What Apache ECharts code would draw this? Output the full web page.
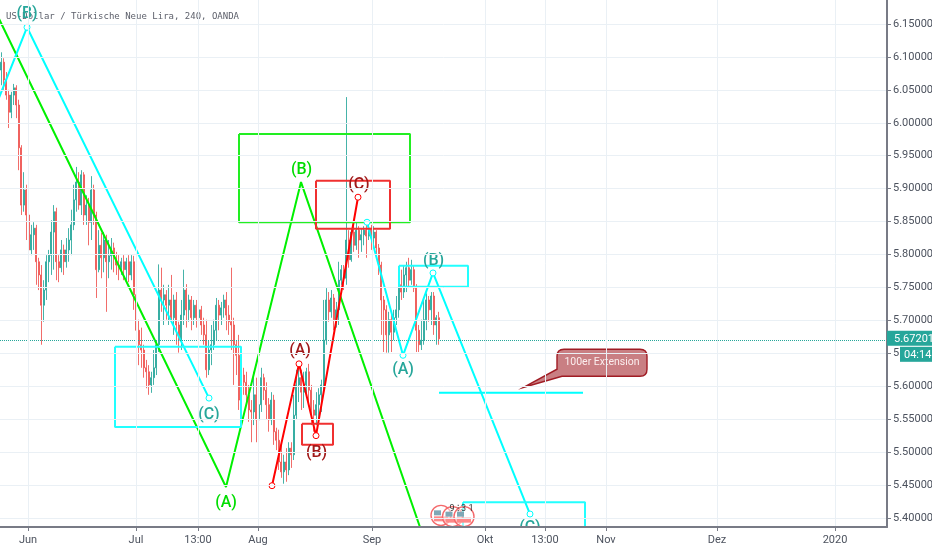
<!DOCTYPE html>
<html><head><meta charset="utf-8">
<script src="https://cdn.jsdelivr.net/npm/echarts@6/dist/echarts.min.js"></script>
<style>html,body{margin:0;padding:0;background:#fff}#c{width:932px;height:550px}</style>
</head><body><div id="c"></div>
<script>
const chartTitle = 'US-Dollar / Türkische Neue Lira, 240, OANDA';
const xTickValues = [11.2,54.4,79.2,103.2,148.8,194,218,242.4,286.8,334];
const xTickLabels = ['Jun','Jul','13:00','Aug','Sep','Okt','13:00','Nov','Dez','2020'];
const yTickValues = [5.40,5.45,5.50,5.55,5.60,5.65,5.70,5.75,5.80,5.85,5.90,5.95,6.00,6.05,6.10,6.15];
const lastPrice = 5.67201;
const countdown = '04:14';
const opens = [6.080,6.092,6.065,6.042,6.016,6.042,6.053,6.027,5.962,5.875,5.898,5.860,5.807,5.830,5.840,5.789,5.769,5.723,5.746,5.789,5.799,5.834,5.865,5.789,5.780,5.807,5.789,5.807,5.822,5.845,5.883,5.910,5.875,5.921,5.860,5.875,5.849,5.898,5.860,5.777,5.814,5.795,5.822,5.789,5.798,5.810,5.795,5.784,5.780,5.789,5.777,5.789,5.769,5.789,5.739,5.685,5.663,5.655,5.628,5.622,5.602,5.613,5.628,5.663,5.746,5.731,5.739,5.723,5.731,5.704,5.731,5.693,5.670,5.708,5.746,5.716,5.731,5.704,5.723,5.704,5.716,5.693,5.678,5.625,5.655,5.663,5.685,5.723,5.708,5.719,5.731,5.708,5.698,5.693,5.663,5.647,5.579,5.617,5.606,5.587,5.564,5.561,5.587,5.549,5.572,5.613,5.594,5.572,5.549,5.579,5.531,5.518,5.485,5.470,5.485,5.473,5.506,5.496,5.556,5.602,5.613,5.591,5.602,5.622,5.594,5.564,5.556,5.572,5.587,5.602,5.670,5.731,5.713,5.734,5.701,5.716,5.761,5.777,5.764,5.822,5.792,5.834,5.814,5.837,5.822,5.830,5.837,5.828,5.840,5.825,5.834,5.810,5.784,5.731,5.716,5.678,5.701,5.682,5.704,5.716,5.754,5.743,5.769,5.780,5.761,5.777,5.749,5.685,5.663,5.670,5.701,5.731,5.716,5.737,5.693,5.704];
const closes = [6.092,6.065,6.042,6.016,6.042,6.053,6.027,5.962,5.875,5.898,5.860,5.807,5.830,5.840,5.789,5.769,5.723,5.746,5.789,5.799,5.834,5.865,5.789,5.780,5.807,5.789,5.807,5.822,5.845,5.883,5.910,5.875,5.921,5.860,5.875,5.849,5.898,5.860,5.777,5.814,5.795,5.822,5.789,5.798,5.810,5.795,5.784,5.780,5.789,5.777,5.789,5.769,5.789,5.739,5.685,5.663,5.655,5.628,5.622,5.602,5.613,5.628,5.663,5.746,5.731,5.739,5.723,5.731,5.704,5.731,5.693,5.670,5.708,5.746,5.716,5.731,5.704,5.723,5.704,5.716,5.693,5.678,5.625,5.655,5.663,5.685,5.723,5.708,5.719,5.731,5.708,5.698,5.693,5.663,5.647,5.579,5.617,5.606,5.587,5.564,5.561,5.587,5.549,5.572,5.613,5.594,5.572,5.549,5.579,5.531,5.518,5.485,5.470,5.485,5.473,5.506,5.496,5.556,5.602,5.613,5.591,5.602,5.622,5.594,5.564,5.556,5.572,5.587,5.602,5.670,5.731,5.713,5.734,5.701,5.716,5.761,5.777,5.764,5.822,5.792,5.834,5.814,5.837,5.822,5.830,5.837,5.828,5.840,5.825,5.834,5.810,5.784,5.731,5.716,5.678,5.701,5.682,5.704,5.716,5.754,5.743,5.769,5.780,5.761,5.777,5.749,5.685,5.663,5.670,5.701,5.731,5.716,5.737,5.693,5.704,5.672];
const lows = [6.057,6.050,6.035,5.992,6.007,6.027,6.007,5.928,5.860,5.865,5.822,5.799,5.799,5.807,5.754,5.746,5.663,5.698,5.731,5.758,5.769,5.777,5.761,5.758,5.773,5.769,5.780,5.789,5.799,5.837,5.865,5.868,5.860,5.845,5.845,5.814,5.822,5.845,5.734,5.773,5.764,5.773,5.713,5.764,5.777,5.773,5.769,5.761,5.769,5.761,5.761,5.758,5.761,5.716,5.655,5.632,5.628,5.613,5.597,5.587,5.590,5.602,5.617,5.652,5.713,5.693,5.701,5.693,5.698,5.678,5.663,5.651,5.655,5.693,5.689,5.698,5.685,5.693,5.689,5.693,5.678,5.663,5.613,5.617,5.632,5.655,5.670,5.685,5.693,5.704,5.685,5.678,5.655,5.602,5.617,5.564,5.546,5.587,5.576,5.546,5.515,5.541,5.515,5.537,5.561,5.579,5.549,5.531,5.541,5.511,5.503,5.473,5.461,5.452,5.455,5.465,5.476,5.488,5.549,5.576,5.564,5.567,5.587,5.576,5.541,5.531,5.541,5.549,5.561,5.591,5.663,5.698,5.704,5.685,5.689,5.693,5.754,5.746,5.754,5.780,5.789,5.804,5.807,5.795,5.804,5.814,5.795,5.822,5.807,5.814,5.799,5.769,5.678,5.652,5.651,5.651,5.652,5.670,5.693,5.704,5.731,5.734,5.743,5.749,5.754,5.743,5.652,5.652,5.655,5.663,5.685,5.698,5.693,5.678,5.663,5.663];
const highs = [6.107,6.098,6.077,6.050,6.047,6.059,6.057,6.035,5.966,5.925,5.906,5.871,5.845,5.849,5.845,5.795,5.784,5.761,5.799,5.807,5.852,5.875,5.871,5.799,5.822,5.815,5.825,5.840,5.868,5.906,5.933,5.925,5.928,5.925,5.890,5.886,5.919,5.906,5.865,5.837,5.833,5.834,5.830,5.822,5.825,5.818,5.804,5.799,5.795,5.799,5.795,5.799,5.799,5.798,5.746,5.701,5.689,5.663,5.640,5.632,5.622,5.655,5.670,5.785,5.780,5.754,5.746,5.754,5.769,5.739,5.743,5.698,5.731,5.777,5.755,5.739,5.737,5.731,5.731,5.723,5.722,5.704,5.701,5.670,5.693,5.701,5.734,5.731,5.728,5.739,5.743,5.723,5.780,5.704,5.670,5.678,5.628,5.628,5.622,5.602,5.579,5.622,5.613,5.628,5.628,5.619,5.606,5.582,5.591,5.587,5.537,5.534,5.511,5.496,5.506,5.515,5.515,5.587,5.625,5.631,5.625,5.622,5.628,5.634,5.602,5.579,5.591,5.597,5.610,5.731,5.749,5.743,5.746,5.740,5.728,5.789,5.784,5.784,6.039,5.837,5.840,5.843,5.849,5.843,5.840,5.843,5.849,5.851,5.845,5.843,5.837,5.816,5.789,5.737,5.723,5.713,5.708,5.716,5.737,5.761,5.777,5.784,5.789,5.795,5.792,5.784,5.755,5.693,5.701,5.731,5.741,5.737,5.743,5.743,5.708,5.713];

const greenWaveX = [-4,90.4,120.4,172];
const greenWaveY = [6.186,5.447,5.910,5.342];
const cyanWaveAX = [-2.4,10.8,83.6];
const cyanWaveAY = [6.019,6.145,5.582];
const redWaveX = [108.8,119.6,126.4,143.2];
const redWaveY = [5.449,5.634,5.525,5.887];
const cyanWaveBX = [146.8,161.2,173.2,212];
const cyanWaveBY = [5.849,5.647,5.772,5.406];
const targetLineX = [175.6,233.2];
const targetLineY = [5.590,5.590];
const boxGreen = [95.6,5.983,164,5.849];
const boxRedLarge = [126.4,5.912,156,5.839];
const boxRedSmall = [120.8,5.543,133.2,5.511];
const boxCyanLeft = [46,5.660,96.4,5.538];
const boxCyanRight = [159.6,5.783,187.2,5.751];
const boxCyanBottom = [185.2,5.424,234,5.336];
const labelsGreen = [['(B)',120.6,5.928],['(A)',90.4,5.422]];
const labelsTeal = [['(B)',10.8,6.165],['(C)',83.6,5.557],['(A)',161.2,5.625],['(B)',173.4,5.790],['(C)',212,5.385]];
const labelsRed = [['(A)',120,5.654],['(B)',126.6,5.499],['(C)',143.6,5.905]];
const calloutTip = [209.6,5.5985];
const calloutText = '100er Extension';
const eventMarkX = [176.4,181,185.6];
const eventMarkY = [5.404,5.402,5.402];
const eventText = '9 ⁝ 3 1';

const xMin = 0, xMax = 354.8, yMin = 5.3863, yMax = 6.1864;
const grey = '#4c525e', teal = '#26a69a', rose = '#ef5350';
const pairs = (xs, ys) => xs.map((x, i) => [x, ys[i]]);
const rectPath = b => [[b[0],b[1]],[b[2],b[1]],[b[2],b[3]],[b[0],b[3]],[b[0],b[1]]];

const candles = opens.map((o, i) => [i + 0.5, o, closes[i], lows[i], highs[i]]);

function lineSeries(data, color, width, withDots, z) {
  return { type:'line', data, z: z || 3, clip:true, silent:true, animation:false,
    showSymbol: !!withDots, showAllSymbol:true, symbol:'circle', symbolSize: withDots ? 6 : 0,
    itemStyle:{ color:'#fff', borderColor:color, borderWidth:1 },
    lineStyle:{ color, width } };
}
function labelSeries(rows, color) {
  return { type:'scatter', symbolSize:0, z:6, silent:true, clip:false, animation:false,
    itemStyle:{ opacity:1 },
    data: rows.map(r => ({ value:[r[1], r[2]], name:r[0] })),
    label:{ show:true, position:'inside', formatter:'{b}', color, opacity:1, fontSize:16, fontWeight:500, fontFamily:'Roboto', textBorderWidth:0, textBorderColor:'transparent' } };
}

const chart = echarts.init(document.getElementById('c'), null, { renderer:'canvas' });
chart.setOption({
  animation:false,
  backgroundColor:'#fff',
  title:{ text:chartTitle, left:6, top:12, padding:0, z:1, textStyle:{ color:'#5d606b', fontSize:9, fontWeight:'normal', fontFamily:'DejaVu Sans Mono' } },
  grid:{ left:0, top:0, width:887, height:527, containLabel:false, outerBoundsMode:'none' },
  xAxis:{ type:'value', min:xMin, max:xMax, z:10,
    axisLine:{ onZero:false, lineStyle:{ color:'#787b86', width:2 } },
    axisTick:{ show:true, length:4, customValues:xTickValues, lineStyle:{ color:'#787b86' } },
    axisLabel:{ customValues:xTickValues, color:grey, fontSize:11, fontFamily:'Roboto', margin:8,
      formatter:v => xTickLabels[xTickValues.indexOf(v)] || '' },
    splitLine:{ show:true, lineStyle:{ color:'#eaf0f5', width:1 } } },
  yAxis:{ type:'value', position:'right', min:yMin, max:yMax, z:10,
    axisLine:{ show:true, onZero:false, lineStyle:{ color:'#787b86', width:2 } },
    axisTick:{ show:true, length:4, customValues:yTickValues, lineStyle:{ color:'#787b86' } },
    axisLabel:{ customValues:yTickValues, color:grey, fontSize:11, fontFamily:'Roboto', margin:6,
      formatter:v => v.toFixed(5) },
    splitLine:{ show:true, lineStyle:{ color:'#eaf0f5', width:1 } } },
  series:[
    { type:'candlestick', data:candles, encode:{ x:0, y:[1,2,3,4] }, barWidth:1.6, z:2, silent:true,
      itemStyle:{ color:teal, color0:rose, borderColor:teal, borderColor0:rose, borderWidth:1, opacity:0.85 },
      markLine:{ silent:true, symbol:'none', animation:false, data:[{ yAxis:lastPrice }],
        label:{ show:false }, lineStyle:{ color:teal, type:[1,1], width:1, opacity:1 } } },
    lineSeries(pairs(greenWaveX, greenWaveY), '#00f000', 2, false),
    lineSeries(pairs(cyanWaveAX, cyanWaveAY), '#00ffff', 2, true),
    lineSeries(pairs(redWaveX, redWaveY), '#ff0000', 2, true),
    lineSeries(pairs(cyanWaveBX, cyanWaveBY), '#00ffff', 2, true),
    lineSeries(pairs(targetLineX, targetLineY), '#00ffff', 2, false),
    lineSeries(rectPath(boxGreen), '#22ee22', 2, false),
    lineSeries(rectPath(boxRedLarge), '#f03030', 2, false),
    lineSeries(rectPath(boxRedSmall), '#f03030', 2, false),
    lineSeries(rectPath(boxCyanLeft), '#22ffff', 2, false),
    lineSeries(rectPath(boxCyanRight), '#22ffff', 2, false),
    lineSeries(rectPath(boxCyanBottom), '#22ffff', 2, false),
    labelSeries(labelsGreen, '#00dd00'),
    labelSeries(labelsTeal, teal),
    labelSeries(labelsRed, '#a01818'),
    { type:'custom', z:7, silent:true, clip:false, animation:false,
      data:[calloutTip],
      renderItem:(p, api) => {
        const c = api.coord([api.value(0), api.value(1)]);
        return { type:'group', x:c[0], y:c[1], children:[
          { type:'path', shape:{ pathData:'M0,0 L33,-18 L33,-31 Q33,-38 40,-38 L116,-38 Q123,-38 123,-31 L123,-18 Q123,-11 116,-11 L38,-11 Z' },
            style:{ fill:'#c97f83', stroke:'#a01c24', lineWidth:1.4 } },
          { type:'text', x:78, y:-25, style:{ text:calloutText, fill:'#fbeeee', font:'10.5px Roboto', textAlign:'center', textVerticalAlign:'middle' } }
        ]};
      } },
    { type:'custom', z:5, silent:true, clip:false, animation:false,
      data:pairs(eventMarkX, eventMarkY),
      renderItem:(p, api) => {
        const c = api.coord([api.value(0), api.value(1)]);
        return { type:'group', x:c[0], y:c[1], children:[
          { type:'circle', shape:{ r:10 }, style:{ fill:'rgba(255,255,255,0.5)', stroke:'#f4696b', lineWidth:1.4 } },
          { type:'rect', shape:{ x:-7, y:1, width:14, height:5 }, style:{ fill:'#f88' } },
          { type:'rect', shape:{ x:-7, y:-5, width:7, height:5 }, style:{ fill:'#7fa7b5' } }
        ]};
      } },
    { type:'custom', z:8, silent:true, clip:false, animation:false,
      data:[[eventMarkX[2] - 1, 5.4135]],
      renderItem:(p, api) => {
        const c = api.coord([api.value(0), api.value(1)]);
        return { type:'text', x:c[0], y:c[1], style:{ text:eventText, fill:'#333', font:'9px Roboto', textAlign:'center', textVerticalAlign:'middle' } };
      } },
    { type:'custom', z:12, silent:true, clip:false, animation:false,
      data:[[xMax, lastPrice]],
      renderItem:(p, api) => {
        const c = api.coord([api.value(0), api.value(1)]);
        return { type:'group', x:c[0], y:c[1], children:[
          { type:'rect', shape:{ x:0, y:-8, width:45, height:15 }, style:{ fill:teal } },
          { type:'text', x:7, y:0, style:{ text:lastPrice.toFixed(5), fill:'#fff', font:'11px Roboto', textVerticalAlign:'middle' } },
          { type:'rect', shape:{ x:13, y:8, width:32, height:15 }, style:{ fill:teal } },
          { type:'text', x:17, y:16, style:{ text:countdown, fill:'#fff', font:'11px Roboto', textVerticalAlign:'middle' } }
        ]};
      } }
  ],
  graphic:[ { type:'rect', silent:true, z:9, shape:{ x:0, y:527, width:887, height:23 }, style:{ fill:'#fff' } } ]
});
</script></body></html>
